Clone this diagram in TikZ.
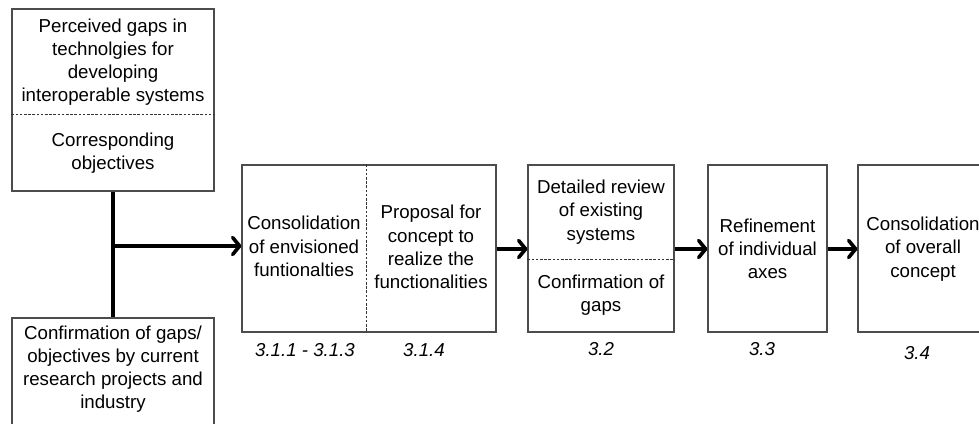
\documentclass[tikz,border=0pt]{standalone}
\usepackage{fontspec}
\setmainfont{Liberation Sans}
\usetikzlibrary{arrows.meta}

\tikzset{
  stagebox/.style={draw=black!70, line width=1.1pt, fill=white, inner sep=0pt},
  txt/.style={align=center, inner sep=0pt, font=\fontsize{18.7}{23.2}\selectfont},
  numlabel/.style={inner sep=0pt, font=\fontsize{18.7}{23.2}\selectfont\itshape},
  divider/.style={draw=black!80, line width=0.8pt, dash pattern=on 2.6pt off 1.6pt},
  flow/.style={line width=3.6pt, -{Straight Barb[length=7pt, width=17pt, line cap=round, line join=round]}},
  trunk/.style={line width=3.6pt}
}

\begin{document}
\begin{tikzpicture}[x=1pt, y=-1pt]
  \useasboundingbox (0,0) rectangle (979,423);
  \clip (0,0) rectangle (979,423);

  % outer frames of the stages
  \node[stagebox, minimum width=202, minimum height=182] (gaps) at (113,100) {};
  \node[stagebox, minimum width=202, minimum height=112] (confirm) at (113,374) {};
  \node[stagebox, minimum width=254, minimum height=167] (consol) at (369,248.5) {};
  \node[stagebox, minimum width=146, minimum height=167] (review) at (601,248.5) {};
  \node[stagebox, minimum width=119, minimum height=167] (refine) at (767.5,248.5) {};
  \node[stagebox, minimum width=130, minimum height=167] (overall) at (923,248.5) {};

  % dashed splits inside the compound boxes
  \coordinate (gapsplit) at (0,114);
  \coordinate (consolsplit) at (366,0);
  \coordinate (reviewsplit) at (0,259);
  \draw[divider] (gaps.west |- gapsplit) -- (gaps.east |- gapsplit);
  \draw[divider] (consolsplit |- consol.north) -- (consolsplit |- consol.south);
  \draw[divider] (review.west |- reviewsplit) -- (review.east |- reviewsplit);

  % texts
  \node[txt] (t1a) at (113,62) {Perceived gaps in\\technolgies for\\developing\\interoperable systems};
  \node[txt] (t1b) at (113,153.5) {Corresponding\\objectives};
  \node[txt] (t2) at (113,369) {Confirmation of gaps/\\objectives by current\\research projects and\\industry};
  \node[txt] (t3a) at (304,246.5) {Consolidation\\of envisioned\\funtionalties};
  \node[txt] (t3b) at (431,247) {Proposal for\\concept to\\realize the\\functionalities};
  \node[txt] (t4a) at (601,212) {Detailed review\\of existing\\systems};
  \node[txt] (t4b) at (601,295.5) {Confirmation of\\gaps};
  \node[txt] (t5) at (767.5,249) {Refinement\\of individual\\axes};
  \node[txt] (t6) at (923,249) {Consolidation\\of overall\\concept};

  % section numbers
  \node[numlabel] (n1) at (305,350) {3.1.1 - 3.1.3};
  \node[numlabel] (n2) at (424,350) {3.1.4};
  \node[numlabel] (n3) at (601,349) {3.2};
  \node[numlabel] (n4) at (762,349) {3.3};
  \node[numlabel] (n5) at (917,353) {3.4};

  % connectors
  \coordinate (junction) at (113,246);
  \draw[trunk] (gaps.south -| junction) -- (confirm.north -| junction);
  \draw[flow] (junction) -- (consol.west |- junction);
  \coordinate (rowline) at (0,249);
  \draw[flow] (consol.east |- rowline) -- (review.west |- rowline);
  \draw[flow] (review.east |- rowline) -- (refine.west |- rowline);
  \draw[flow] (refine.east |- rowline) -- (overall.west |- rowline);
\end{tikzpicture}
\end{document}
